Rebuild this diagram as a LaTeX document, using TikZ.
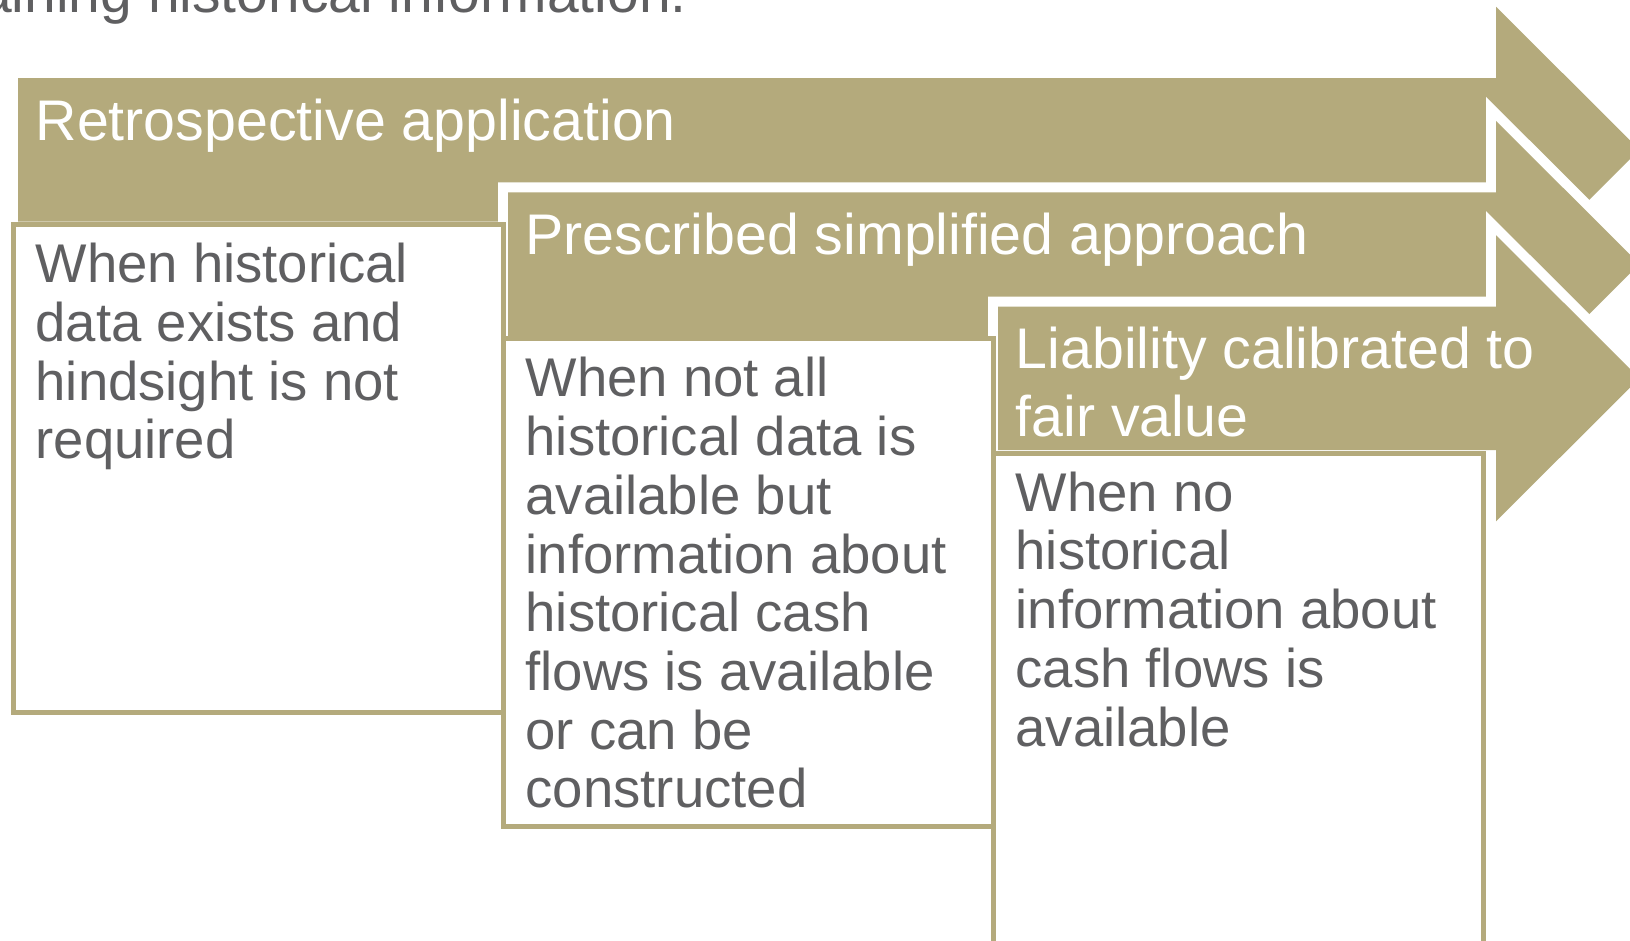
\documentclass[tikz,border=0pt]{standalone}
\usepackage{fontspec}
\setmainfont{Liberation Sans}
\definecolor{gold}{RGB}{180,170,124}
\definecolor{textgray}{RGB}{95,95,97}

% first-line strut: fixes the distance from a node's top to its first baseline
\newcommand{\firstline}{\rule{0pt}{48pt}}

\tikzset{
  arrowedge/.style={draw=white, line width=20pt, line join=miter},
  arrowbody/.style={fill=gold},
  panel/.style={draw=gold, line width=5pt, fill=white},
  headtext/.style={font=\fontsize{57.3}{68}\selectfont, text=white,
                   inner sep=0pt, anchor=north west, align=left},
  bodytext/.style={font=\fontsize{54.5}{58.7}\selectfont, text=textgray,
                   inner sep=0pt, anchor=north west, align=left},
  leadtext/.style={font=\fontsize{57}{66}\selectfont, text=textgray,
                   inner sep=0pt, anchor=base west},
}

\begin{document}
\begin{tikzpicture}[x=1pt, y=-1pt]
  \useasboundingbox (0,0) rectangle (1630,940);
  \clip (0,0) rectangle (1630,940);

  % tail of the preceding sentence
  \node[leadtext] (lead) at (-20,12.5) {aining historical information.};

  % three staggered arrows, each cut out of the one above by a white rim
  \foreach \i in {0,1,2} {
    \pgfmathsetmacro\L{18+490*\i}
    \pgfmathsetmacro\T{78+114.25*\i}
    \pgfmathsetmacro\B{\T+143.5}
    \pgfmathsetmacro\C{\T+71.75}
    \pgfmathsetmacro\HT{\T-71.25}
    \pgfmathsetmacro\HB{\B+71.25}
    \path[arrowedge] (\L,\T) -- (1496,\T) -- (1496,\HT) -- (1639.5,\C)
      -- (1496,\HB) -- (1496,\B) -- (\L,\B) -- cycle;
    \path[arrowbody] (\L,\T) -- (1496,\T) -- (1496,\HT) -- (1639.5,\C)
      -- (1496,\HB) -- (1496,\B) -- (\L,\B) -- cycle;
  }

  % description panels below each arrow (the last one runs past the bottom edge)
  \draw[panel] (13.5, 224.5) rectangle ++(489.5,488);
  \draw[panel] (503.5, 338.75) rectangle ++(489.5,488);
  \draw[panel] (993.5, 453) rectangle ++(489.5,520);

  % arrow captions
  \node[headtext] (t1) at (35.5, 140-48) {\firstline Retrospective application};
  \node[headtext] (t2) at (525, 254.25-48) {\firstline Prescribed simplified approach};
  \node[headtext] (t3) at (1015.5, 368.5-48) {\firstline Liability calibrated to\\fair value};

  % panel texts
  \node[bodytext] (b1) at (35.4, 282.5-48)
    {\firstline When historical\\data exists and\\hindsight is not\\required};
  \node[bodytext] (b2) at (525.4, 396.75-48)
    {\firstline When not all\\historical data is\\available but\\information about\\historical cash\\flows is available\\or can be\\constructed};
  \node[bodytext] (b3) at (1015.4, 511-48)
    {\firstline When no\\historical\\information about\\cash flows is\\available};
\end{tikzpicture}
\end{document}
